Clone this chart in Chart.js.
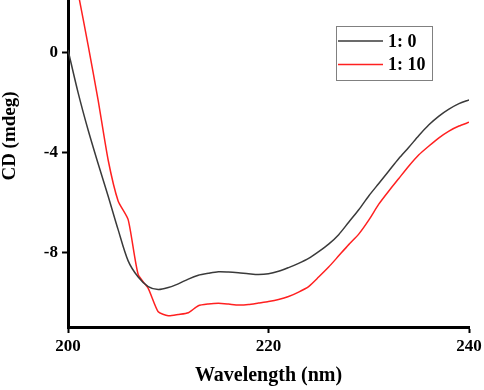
<!DOCTYPE html>
<html>
<head>
<meta charset="utf-8">
<script src="https://cdn.jsdelivr.net/npm/chart.js@4/dist/chart.umd.min.js"></script>
<style>
html,body{margin:0;padding:0;background:#fff;}
canvas{display:block;}
</style>
</head>
<body>
<canvas id="c" width="484" height="390"></canvas>
<script>
const wavelengths = [200,201,202,203,204,205,206,207,208,209,210,211,212,213,214,215,216,217,218,219,220,221,222,223,224,225,226,227,228,229,230,231,232,233,234,235,236,237,238,239,240];
const cd_1_0 = [0.1,-1.6,-3.1,-4.45,-5.75,-7.1,-8.35,-9.0,-9.38,-9.5,-9.42,-9.27,-9.08,-8.93,-8.85,-8.79,-8.8,-8.83,-8.87,-8.9,-8.87,-8.77,-8.62,-8.45,-8.25,-7.98,-7.68,-7.3,-6.8,-6.3,-5.75,-5.25,-4.75,-4.25,-3.8,-3.33,-2.9,-2.55,-2.27,-2.05,-1.9];
const cd_1_10 = [4.4,2.4,0.3,-1.9,-4.3,-5.95,-6.7,-8.9,-9.45,-10.39,-10.55,-10.5,-10.43,-10.15,-10.08,-10.05,-10.08,-10.12,-10.1,-10.04,-9.98,-9.9,-9.78,-9.6,-9.38,-9.0,-8.6,-8.15,-7.7,-7.28,-6.72,-6.08,-5.55,-5.05,-4.55,-4.1,-3.75,-3.42,-3.15,-2.95,-2.8];
const seriesLabels = ['1: 0', '1: 10'];
const xTicks = [200,220,240];
const yTicks = [0,-4,-8];

const serif = "'Liberation Serif','Times New Roman',serif";

const legendPlugin = {
  id: 'boxLegend',
  afterDraw(chart) {
    const ctx = chart.ctx;
    ctx.save();
    ctx.strokeStyle = '#808080';
    ctx.lineWidth = 1;
    ctx.strokeRect(336.5, 26.5, 96, 54);
    chart.data.datasets.forEach((ds, i) => {
      const y = 41 + i * 23.5;
      ctx.strokeStyle = ds.borderColor;
      ctx.lineWidth = 1.5;
      ctx.beginPath();
      ctx.moveTo(338, y);
      ctx.lineTo(383, y);
      ctx.stroke();
      ctx.fillStyle = '#000';
      ctx.font = 'bold 18px ' + serif;
      ctx.textAlign = 'left';
      ctx.textBaseline = 'middle';
      ctx.fillText(ds.label, 388, y + 1);
    });
    ctx.restore();
  }
};

const yTitlePlugin = {
  id: 'yTitle',
  afterDraw(chart) {
    const ctx = chart.ctx;
    ctx.save();
    ctx.translate(10, 136);
    ctx.rotate(-Math.PI / 2);
    ctx.fillStyle = '#000';
    ctx.font = 'bold 19px ' + serif;
    ctx.textAlign = 'center';
    ctx.textBaseline = 'middle';
    ctx.fillText('CD (mdeg)', 0, 0);
    ctx.restore();
  }
};

new Chart(document.getElementById('c'), {
  type: 'line',
  data: {
    datasets: [
      { label: seriesLabels[0], data: wavelengths.map((w, i) => ({x: w, y: cd_1_0[i]})),
        borderColor: '#3a3a3a', borderWidth: 1.5, pointRadius: 0, tension: 0.3, fill: false },
      { label: seriesLabels[1], data: wavelengths.map((w, i) => ({x: w, y: cd_1_10[i]})),
        borderColor: '#ff2020', borderWidth: 1.5, pointRadius: 0, tension: 0.2, fill: false }
    ]
  },
  options: {
    responsive: false,
    animation: false,
    layout: { padding: { top: 0, right: 15, left: 0, bottom: 0 } },
    plugins: { legend: { display: false }, tooltip: { enabled: false } },
    scales: {
      x: {
        type: 'linear', min: 200, max: 240,
        afterBuildTicks: s => { s.ticks = xTicks.map(v => ({ value: v })); },
        afterFit: s => { s.height = 63; s.paddingLeft = 0; s.paddingRight = 0; },
        ticks: { color: '#000', font: { family: serif, size: 17, weight: 'bold' }, padding: 3, maxRotation: 0 },
        grid: { display: true, drawOnChartArea: false, drawTicks: true, tickLength: 6, tickWidth: 2, tickColor: '#000' },
        border: { display: true, width: 3, color: '#000' },
        title: { display: true, text: 'Wavelength (nm)', color: '#000', font: { family: serif, size: 20, weight: 'bold' }, padding: { top: 7, bottom: 2 } }
      },
      y: {
        type: 'linear', min: -11, max: 2.1,
        afterBuildTicks: s => { s.ticks = yTicks.map(v => ({ value: v })); },
        afterFit: s => { s.width = 68; s.paddingTop = 0; s.paddingBottom = 0; },
        ticks: { color: '#000', font: { family: serif, size: 17, weight: 'bold' }, padding: 4 },
        grid: { display: true, drawOnChartArea: false, drawTicks: true, tickLength: 6, tickWidth: 2, tickColor: '#000' },
        border: { display: true, width: 3, color: '#000' },
        title: { display: false }
      }
    }
  },
  plugins: [legendPlugin, yTitlePlugin]
});
</script>
</body>
</html>
